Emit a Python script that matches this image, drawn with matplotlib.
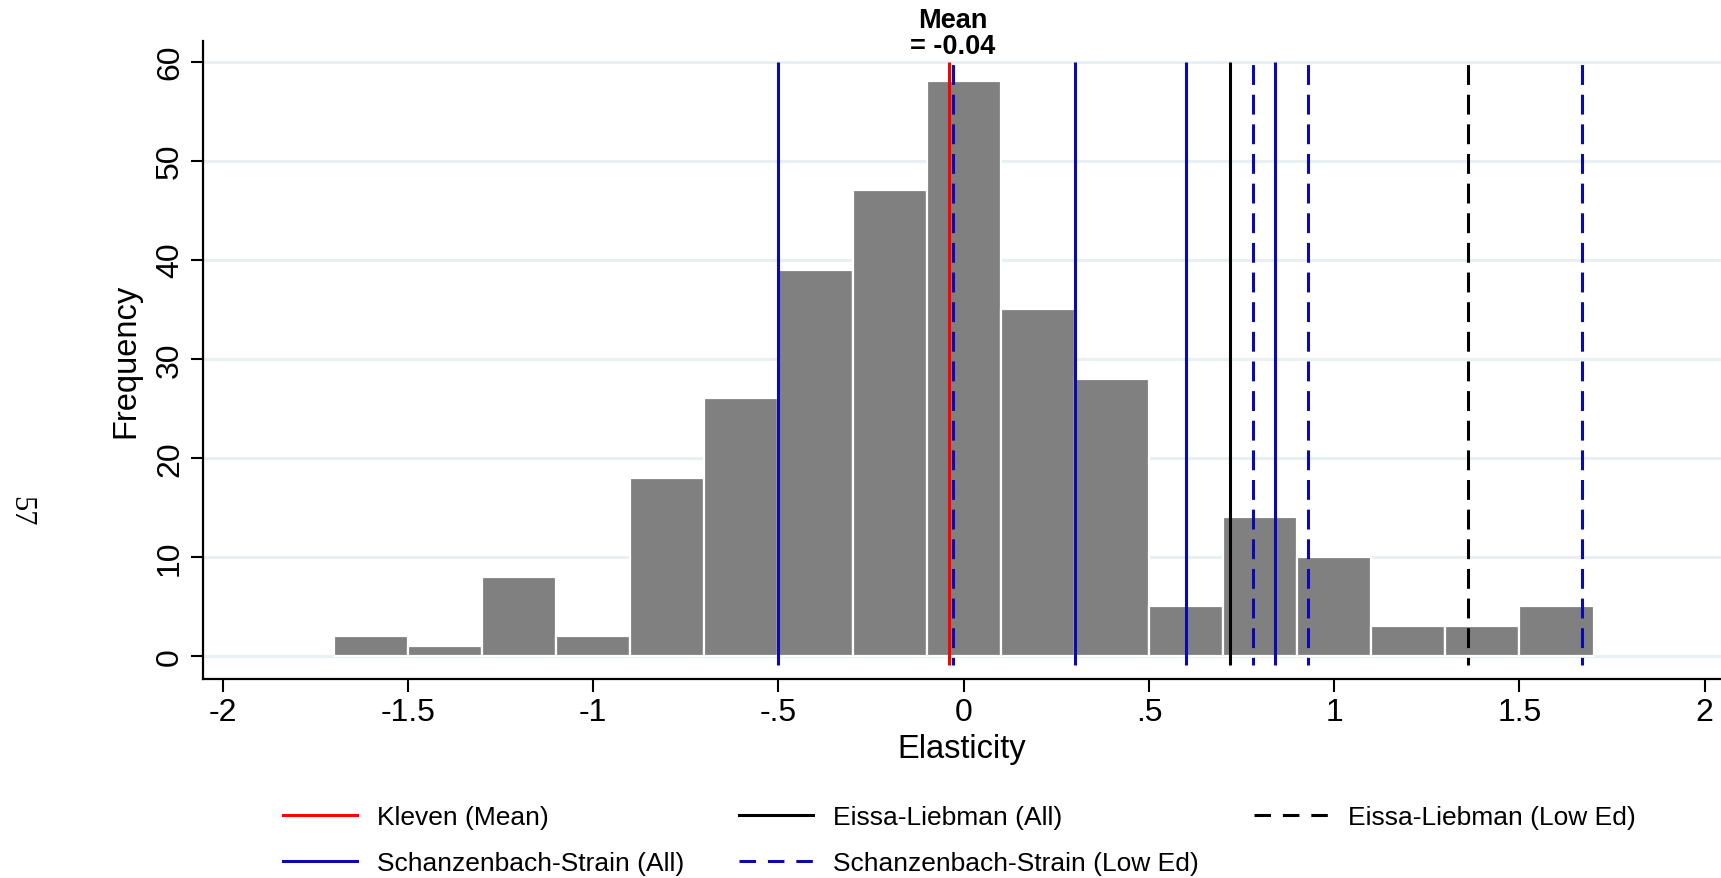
import matplotlib
matplotlib.use("Agg")
import matplotlib.pyplot as plt
import numpy as np
from matplotlib.lines import Line2D

plt.rcParams['font.family'] = ['Liberation Sans', 'DejaVu Sans']

# Data
bin_edges = [-1.7, -1.5, -1.3, -1.1, -0.9, -0.7, -0.5, -0.3, -0.1, 0.1, 0.3, 0.5, 0.7, 0.9, 1.1, 1.3, 1.5, 1.7]
counts = [2, 1, 8, 2, 18, 26, 39, 47, 58, 35, 28, 5, 14, 10, 3, 3, 5]
kleven_mean = -0.04
ss_all = [-0.50, 0.30, 0.60, 0.84]
ss_lowed = [-0.03, 0.78, 0.93, 1.67]
el_all = [0.72]
el_lowed = [1.36]
xticks = [-2, -1.5, -1, -0.5, 0, 0.5, 1, 1.5, 2]
xticklabels = ["-2", "-1.5", "-1", "-.5", "0", ".5", "1", "1.5", "2"]
yticks = [0, 10, 20, 30, 40, 50, 60]

W, H = 1721, 879
fig = plt.figure(figsize=(W / 100, H / 100), dpi=100)
ax = fig.add_axes([203 / W, 1 - 680 / H, 1 - 203 / W, (680 - 41.7) / H])

blue = '#0a0ab0'
gray = '#808080'
grid = '#e8f0f1'

for y in yticks:
    ax.axhline(y, color=grid, lw=2.2, zorder=0)

lefts = np.array(bin_edges[:-1])
widths = np.diff(bin_edges)
ax.bar(lefts, counts, width=widths, align='edge', color=gray,
       edgecolor='white', linewidth=1.6, zorder=2)

lw = 2.2
ymin, ymax = -0.9, 60
dashed = [(4, (6.5, 3.2))]
ax.vlines(ss_all, ymin, ymax, colors=blue, lw=lw, zorder=3)
ax.vlines(ss_lowed, ymin, ymax, colors=blue, lw=lw, linestyles=dashed, zorder=3)
ax.vlines(el_all, ymin, ymax, colors='black', lw=lw, zorder=3)
ax.vlines(el_lowed, ymin, ymax, colors='black', lw=lw, linestyles=dashed, zorder=3)
ax.vlines([kleven_mean], ymin, ymax, colors='red', lw=lw, zorder=4)

ax.text(kleven_mean + 0.01, 60.25, "Mean\n= -0.04", ha='center', va='bottom',
        fontsize=19.5, fontweight='bold', linespacing=1.0)

ax.set_xlim(-2.053, 2.044)
ax.set_ylim(-2.32, 62.1)
ax.set_xticks(xticks)
ax.set_xticklabels(xticklabels)
ax.set_yticks(yticks)
ax.set_yticklabels([str(v) for v in yticks], rotation=90, va='center')
ax.tick_params(axis='both', labelsize=23, length=9, width=1.5, direction='out', pad=4)
for s in ['top', 'right']:
    ax.spines[s].set_visible(False)
for s in ['left', 'bottom']:
    ax.spines[s].set_linewidth(1.6)

ax.set_xlabel("Elasticity", fontsize=23.5, labelpad=4)
ax.set_ylabel("Frequency", fontsize=23.5, labelpad=9.5)

fig.text(21 / W, 1 - 511 / H, "57", rotation=-90, ha='center', va='center',
         fontsize=22, family=['Liberation Serif', 'DejaVu Serif'])

leg_dash = (0, (5.4, 3.9))
handles = [
    Line2D([], [], color='red', lw=lw),
    Line2D([], [], color=blue, lw=lw),
    Line2D([], [], color='black', lw=lw),
    Line2D([], [], color=blue, lw=lw, ls=leg_dash),
    Line2D([], [], color='black', lw=lw, ls=leg_dash),
]
labels = ["Kleven (Mean)", "Schanzenbach-Strain (All)", "Eissa-Liebman (All)",
          "Schanzenbach-Strain (Low Ed)", "Eissa-Liebman (Low Ed)"]
fig.legend(handles, labels, ncol=3, loc='upper left',
           bbox_to_anchor=(283 / W, 1 - 806 / H), frameon=False, fontsize=19,
           handlelength=2.8, handletextpad=0.75, columnspacing=2.1, labelspacing=0.84,
           borderaxespad=0, borderpad=0)

fig.savefig("out.png", dpi=100)
